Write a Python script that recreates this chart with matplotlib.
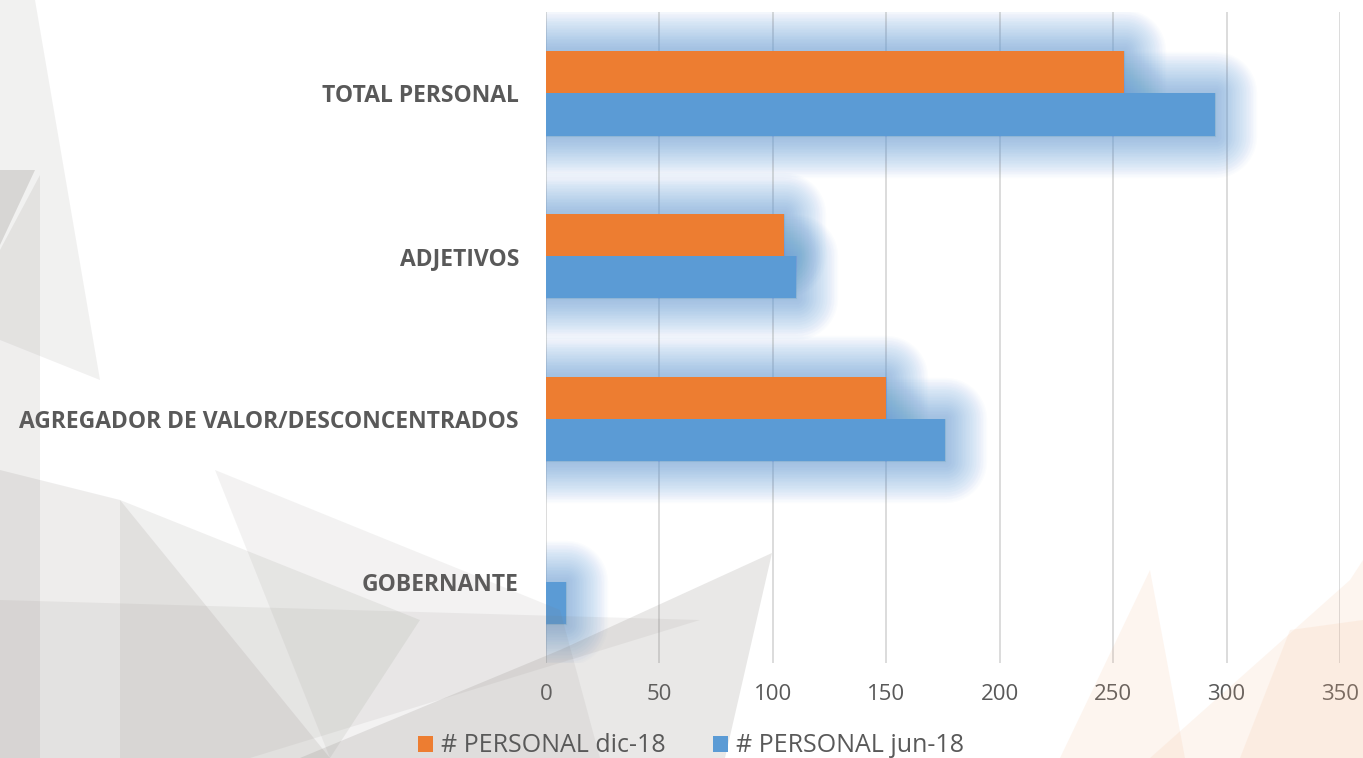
import matplotlib
matplotlib.use("Agg")
import matplotlib.pyplot as plt
import matplotlib.patheffects as pe
from matplotlib.patches import Polygon
import numpy as np

categorias = ["GOBERNANTE", "AGREGADOR DE VALOR/DESCONCENTRADOS", "ADJETIVOS", "TOTAL PERSONAL"]
personal_dic18 = [0, 150, 105, 255]
personal_jun18 = [9, 176, 110, 295]
ticks_x = [0, 50, 100, 150, 200, 250, 300, 350]

naranja = "#ED7D31"
azul = "#5B9BD5"
gris_texto = "#595959"

W, H = 1363, 758
fig = plt.figure(figsize=(W / 100, H / 100), dpi=100)
fig.patch.set_facecolor("white")


def px(puntos):
    return [(x / W, 1 - y / H) for x, y in puntos]


# fondo decorativo (triangulos)
fondo_gris = [
    ([(0, 0), (35, 0), (100, 380), (0, 340)], 0.10),
    ([(0, 170), (35, 170), (0, 245)], 0.22),
    ([(0, 250), (40, 175), (40, 758), (0, 758)], 0.12),
    ([(0, 470), (120, 500), (330, 758), (0, 758)], 0.13),
    ([(120, 500), (420, 620), (330, 758), (120, 758)], 0.11),
    ([(215, 470), (560, 610), (600, 758), (330, 758)], 0.09),
    ([(772, 553), (725, 758), (300, 758), (560, 650)], 0.17),
    ([(0, 600), (700, 620), (250, 758), (0, 758)], 0.09),
]
for pts, a in fondo_gris:
    fig.patches.append(Polygon(px(pts), closed=True, transform=fig.transFigure,
                               facecolor="#7f7873", edgecolor="none", alpha=a, zorder=0))

fondo_naranja = [
    [(1150, 570), (1185, 758), (1060, 758)],
    [(1350, 580), (1363, 560), (1363, 758), (1150, 758)],
    [(1290, 630), (1363, 620), (1363, 758), (1240, 758)],
]
for pts in fondo_naranja:
    fig.patches.append(Polygon(px(pts), closed=True, transform=fig.transFigure,
                               facecolor="#F4B183", edgecolor="none", alpha=0.12, zorder=0))

ax = fig.add_axes([546 / W, 1 - 663 / H, (1340 - 546) / W, (663 - 12) / H])
ax.set_facecolor("none")

y = np.arange(len(categorias))
h = 0.26

# brillo azul alrededor de las barras
brillo = [pe.Stroke(linewidth=lw, foreground=azul, alpha=0.022, joinstyle="round")
          for lw in range(2, 62, 2)]
for vals, off in [(personal_dic18, h / 2), (personal_jun18, -h / 2)]:
    bb = ax.barh(y + off, vals, height=h, color=azul, zorder=1.5)
    for b, v in zip(bb, vals):
        if v > 0:
            b.set_path_effects(brillo)
        else:
            b.set_visible(False)

ax.barh(y + h / 2, personal_dic18, height=h, color=naranja, zorder=3, label="# PERSONAL dic-18")
ax.barh(y - h / 2, personal_jun18, height=h, color=azul, zorder=3, label="# PERSONAL jun-18")

ax.set_xlim(0, 350)
ax.set_ylim(-0.5, len(categorias) - 0.5)
ax.set_xticks(ticks_x)
ax.set_yticks(y)
ax.set_yticklabels(categorias, fontfamily="Open Sans", fontweight="bold", fontsize=16.5, color=gris_texto)
ax.tick_params(axis="x", length=0, pad=15, labelsize=16, labelcolor=gris_texto)
ax.tick_params(axis="y", length=0, pad=19.5)
for t in ax.get_xticklabels():
    t.set_fontfamily("Open Sans")
ax.grid(axis="x", color="#D9D9D9", linewidth=1.3, zorder=1)
ax.set_axisbelow(True)
for s in ax.spines.values():
    s.set_visible(False)

handles, labels = ax.get_legend_handles_labels()
fig.legend(handles, labels, loc="center", bbox_to_anchor=(691 / W, 1 - 746 / H), ncol=2,
           frameon=False, prop={"family": "Open Sans", "size": 18}, labelcolor=gris_texto,
           handlelength=0.6, handleheight=0.6, handletextpad=0.3, columnspacing=1.9,
           borderaxespad=0, borderpad=0)

fig.savefig("out.png", dpi=100)
